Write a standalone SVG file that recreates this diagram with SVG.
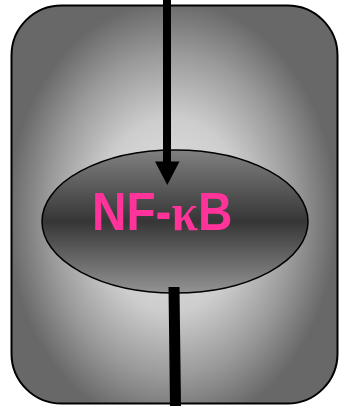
<svg xmlns="http://www.w3.org/2000/svg" width="339" height="406" viewBox="0 0 339 406">
  <defs>
    <radialGradient id="bg" gradientUnits="userSpaceOnUse" cx="172" cy="215" r="165" gradientTransform="translate(172 215) scale(1 1.3) translate(-172 -215)">
      <stop offset="0" stop-color="#e6e6e6"/>
      <stop offset="0.45" stop-color="#cdcdcd"/>
      <stop offset="0.75" stop-color="#9a9a9a"/>
      <stop offset="1" stop-color="#686868"/>
    </radialGradient>
    <linearGradient id="ell" x1="0" y1="0" x2="0" y2="1">
      <stop offset="0" stop-color="#808080"/>
      <stop offset="0.5" stop-color="#363636"/>
      <stop offset="1" stop-color="#939393"/>
    </linearGradient>
    <style>
      .lbl { fill: #ff3399; font-size: 53px; font-weight: bold; font-family: 'Liberation Sans', Arial, sans-serif; }
      .greek { font-family: 'Liberation Serif', 'Times New Roman', serif; }
    </style>
  </defs>
  <g id="cell">
    <rect x="11.5" y="5.5" width="326" height="398" rx="50" ry="50" fill="url(#bg)" stroke="#000" stroke-width="2"/>
  </g>
  <g id="nfkb">
    <ellipse cx="175" cy="221.5" rx="133" ry="71.5" fill="url(#ell)" stroke="#000" stroke-width="1.5"/>
    <text class="lbl" transform="translate(92 230) scale(0.9 1)" x="0" y="0">NF-<tspan class="greek">κ</tspan>B</text>
  </g>
  <g id="connectors">
    <line x1="167" y1="0" x2="167" y2="163" stroke="#000" stroke-width="8"/>
    <polygon points="155,161.5 179.5,161.5 167.3,185" fill="#000"/>
    <line x1="174" y1="287" x2="175.5" y2="406" stroke="#000" stroke-width="11"/>
  </g>
</svg>
